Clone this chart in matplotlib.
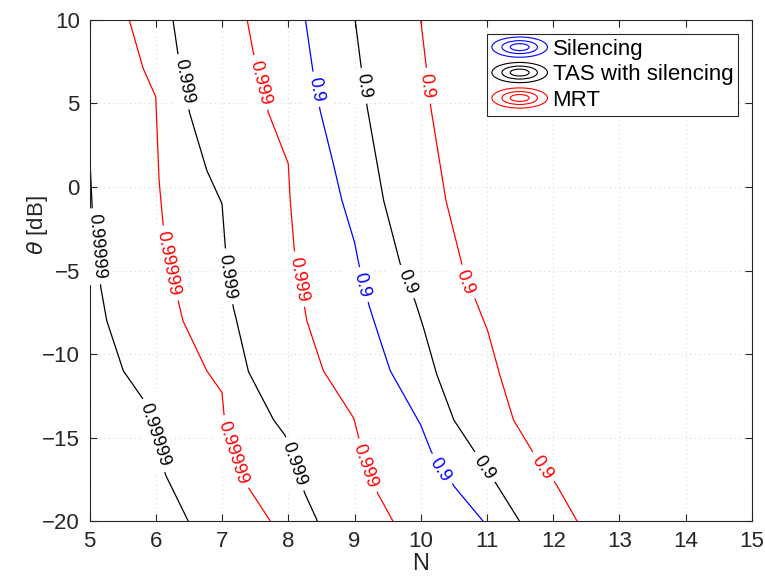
import matplotlib
matplotlib.use('Agg')
import matplotlib.pyplot as plt
from matplotlib.lines import Line2D
from matplotlib.patches import Ellipse
from matplotlib.legend_handler import HandlerBase

plt.rcParams['font.family'] = ['Liberation Sans', 'DejaVu Sans']
plt.rcParams['mathtext.fontset'] = 'dejavusans'

# contour lines, (N, theta [dB]) vertices
sil_09_N = [8.26, 8.37, 8.48, 8.68, 8.81, 9.00, 9.07, 9.22, 9.39, 9.54, 10.00, 10.16, 10.51, 10.94]
sil_09_T = [10, 7.0, 4.6, 1.4, -0.8, -3.3, -4.7, -7.1, -9.2, -11.0, -14.25, -15.85, -17.95, -20]

tas_99999_N = [5.00, 5.04, 5.10, 5.17, 5.26, 5.51, 5.80, 6.15, 6.49]
tas_99999_T = [2.2, -1.2, -3.5, -6.0, -8.0, -11.0, -12.65, -17.25, -20]
tas_999_N = [6.26, 6.33, 6.51, 6.77, 7.00, 7.05, 7.17, 7.22, 7.40, 7.78, 7.95, 8.25, 8.44]
tas_999_T = [10, 8.1, 4.45, 1.0, -1.0, -3.6, -7.2, -8.0, -11.06, -13.95, -14.85, -18.34, -20]
tas_09_N = [9.01, 9.10, 9.19, 9.44, 9.69, 9.92, 10.04, 10.24, 10.50, 10.80, 11.15, 11.49]
tas_09_T = [10, 7.2, 4.8, -0.8, -4.6, -6.9, -8.4, -11.2, -13.95, -15.75, -17.84, -20]

mrt_99999_N = [5.60, 5.81, 6.00, 6.05, 6.11, 6.35, 6.41, 6.77, 7.00, 7.03, 7.40, 7.73]
mrt_99999_T = [10, 7.1, 5.4, 0.4, -2.2, -7.0, -8.0, -11.0, -12.3, -13.6, -18.0, -20]
mrt_999_N = [7.38, 7.47, 7.70, 8.00, 8.03, 8.09, 8.25, 8.28, 8.53, 8.99, 9.06, 9.35, 9.58]
mrt_999_T = [10, 8.1, 4.45, 1.4, -0.8, -3.7, -7.3, -8.0, -11.0, -13.85, -14.95, -18.34, -20]
mrt_09_N = [10.00, 10.08, 10.15, 10.38, 10.62, 10.84, 11.01, 11.19, 11.40, 11.69, 12.05, 12.36]
mrt_09_T = [10, 7.3, 4.8, -0.8, -4.6, -6.9, -8.6, -11.2, -13.95, -15.85, -17.84, -20]

# inline labels: (text, N, theta, angle)
sil_labels = [('0.9', 8.42, 5.85, -80), ('0.9', 9.11, -5.87, -76), ('0.9', 10.29, -16.95, -57)]
tas_labels = [('0.99999', 5.10, -3.55, -85), ('0.99999', 5.99, -14.85, -72),
              ('0.999', 6.42, 6.3, -79), ('0.999', 7.07, -5.37, -82), ('0.999', 8.08, -16.6, -71),
              ('0.9', 9.13, 6.05, -82), ('0.9', 9.79, -5.67, -68), ('0.9', 10.95, -16.8, -56)]
mrt_labels = [('0.99999', 6.19, -4.57, -79), ('0.99999', 7.16, -15.9, -72),
              ('0.999', 7.57, 6.25, -76), ('0.999', 8.15, -5.53, -80), ('0.999', 9.16, -16.7, -71),
              ('0.9', 10.09, 6.05, -83), ('0.9', 10.67, -5.73, -70), ('0.9', 11.83, -16.8, -56)]

series = [
    ('Silencing', 'blue', [(sil_09_N, sil_09_T)], sil_labels),
    ('TAS with silencing', 'black', [(tas_99999_N, tas_99999_T), (tas_999_N, tas_999_T), (tas_09_N, tas_09_T)], tas_labels),
    ('MRT', 'red', [(mrt_99999_N, mrt_99999_T), (mrt_999_N, mrt_999_T), (mrt_09_N, mrt_09_T)], mrt_labels),
]


class ContourHandler(HandlerBase):
    # three nested ellipses, like a contour icon
    def create_artists(self, legend, orig_handle, xdescent, ydescent, width, height, fontsize, trans):
        cx = width / 2 - xdescent
        cy = height / 2 - ydescent
        out = []
        for f in (1.0, 0.64, 0.34):
            e = Ellipse((cx, cy), width * f, height * 1.3 * f, fill=False,
                        edgecolor=orig_handle.get_color(), lw=0.8, transform=trans)
            out.append(e)
        return out


fig = plt.figure(figsize=(7.65, 5.79), dpi=100)
ax = fig.add_axes([0.117, 0.100, 0.866, 0.8655])

handles = []
for name, col, lines, labels in series:
    for xs, ys in lines:
        ax.plot(xs, ys, color=col, lw=0.9)
    for txt, x, y, ang in labels:
        ax.text(x, y, txt, color=col, fontsize=13, rotation=ang, rotation_mode='anchor',
                ha='center', va='center', clip_on=False, zorder=5,
                bbox=dict(boxstyle='square,pad=0.3', fc='white', ec='none'))
    handles.append(Line2D([], [], color=col))

ax.set_xlim(5, 15)
ax.set_ylim(-20, 10)
ax.set_xticks(range(5, 16))
ax.set_yticks(range(-20, 11, 5))
ax.grid(True, linestyle=(0, (1, 3)), color='#d8d8d8', lw=0.8)
ax.set_axisbelow(True)
ax.tick_params(direction='in', top=True, right=True, length=5, labelsize=16,
               colors='#262626', width=0.8, pad=7)
for s in ax.spines.values():
    s.set_color('#262626')
    s.set_linewidth(0.8)
ax.set_xlabel('N', fontsize=17, color='#262626', labelpad=1)
ax.set_ylabel(r'$\theta$ [dB]', fontsize=16, color='#262626')
ax.yaxis.set_label_coords(-0.059, 0.59)

leg = ax.legend(handles, [s[0] for s in series], handler_map={Line2D: ContourHandler()},
                loc='upper right', bbox_to_anchor=(0.979, 0.972), fontsize=16,
                handlelength=2.5, handletextpad=0.23, labelspacing=0.2,
                borderpad=0.22, borderaxespad=0, fancybox=False, framealpha=1)
leg.get_frame().set_edgecolor('#262626')
leg.get_frame().set_linewidth(0.8)

plt.savefig('out.png', dpi=100)
